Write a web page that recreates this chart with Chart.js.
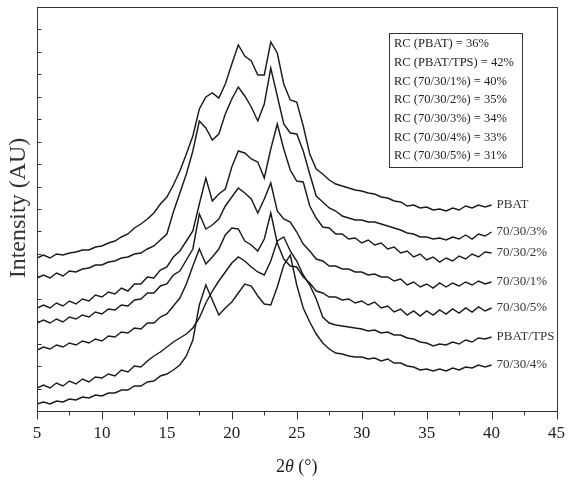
<!DOCTYPE html>
<html>
<head>
<meta charset="utf-8">
<script src="https://cdn.jsdelivr.net/npm/chart.js@4.4.1/dist/chart.umd.min.js"></script>
<style>
  html, body { margin: 0; padding: 0; background: #fff; }
</style>
</head>
<body>
<canvas id="xrd" width="577" height="480"></canvas>
<script>
// diffraction angle, degrees
var twoTheta = [5,5.5,6,6.5,7,7.5,8,8.5,9,9.5,10,10.5,11,11.5,12,12.5,13,13.5,14,14.5,
  15,15.5,16,16.5,17,17.5,18,18.5,19,19.5,20,20.5,21,21.5,22,22.5,23,23.5,24,24.5,
  25,25.5,26,26.5,27,27.5,28,28.5,29,29.5,30,30.5,31,31.5,32,32.5,33,33.5,34,34.5,
  35,35.5,36,36.5,37,37.5,38,38.5,39,39.5,40];

// stacked intensities (offset curves, arbitrary units)
var pbat = [153,156,153,157,156,158,159,161,161,164,
  165,168,170,174,177,183,187,192,198,207,
  214,226,240,257,275,302,314,318,313,327,
  347,366,355,350,336,336,369,358,327,311,
  309,285,257,242,237,231,227,225,223,221,
  220,218,217,214,213,210,209,205,206,203,
  204,201,202,200,203,201,205,203,206,204,206];
var blend3 = [133,136,133,138,135,140,139,142,143,146,
  146,149,150,153,154,157,158,162,165,171,
  177,199,218,237,260,290,283,271,277,297,
  312,324,315,304,290,307,343,315,287,278,
  277,260,237,215,209,203,200,195,193,191,
  191,189,189,187,185,183,181,178,177,174,
  174,172,173,171,174,172,176,172,177,175,179];
var blend2 = [103,106,103,108,105,110,107,112,110,116,
  114,119,117,123,120,127,127,134,133,141,
  144,154,160,170,180,207,233,210,217,222,
  244,260,258,252,249,233,262,287,262,241,
  230,229,205,193,184,183,177,177,172,173,
  168,171,166,168,162,164,158,160,154,157,
  151,154,149,153,150,155,152,157,154,159,158];
var blend1 = [88,91,88,92,89,94,92,96,94,99,
  97,102,101,106,105,111,112,118,118,125,
  127,136,140,151,162,197,182,186,192,205,
  214,223,218,212,198,212,228,200,192,189,
  179,167,160,152,150,145,145,142,142,139,
  139,136,137,134,134,130,132,126,129,124,
  127,123,128,124,128,125,129,126,130,127,129];
var blend5 = [61,64,62,66,64,68,66,70,68,72,
  70,75,74,79,78,83,82,88,88,94,
  97,105,113,127,145,162,147,154,162,176,
  183,182,170,166,160,172,198,168,152,145,
  144,134,128,120,118,114,114,111,112,108,
  110,106,109,103,105,99,102,96,100,95,
  100,96,101,97,102,98,103,99,104,100,103];
var pbatTps = [23,26,23,28,25,30,27,32,29,34,
  33,37,35,41,39,45,44,50,55,59,
  64,69,73,77,83,93,108,120,130,139,
  148,154,150,144,139,136,150,170,174,160,
  150,136,126,112,94,88,86,85,84,83,
  82,80,81,78,79,76,76,73,72,69,
  68,65,67,66,69,67,71,69,73,72,74];
var blend4 = [7,9,7,10,9,12,11,14,13,16,
  15,18,18,21,21,25,25,29,30,35,
  37,41,46,55,71,106,126,111,96,103,
  109,118,127,125,115,107,106,124,146,156,
  126,103,89,77,68,62,58,57,55,54,
  54,52,53,50,52,48,48,45,44,41,
  42,40,42,40,43,41,44,43,46,44,46];

var seriesNames = ['PBAT', '70/30/3%', '70/30/2%', '70/30/1%', '70/30/5%', 'PBAT/TPS', '70/30/4%'];
var seriesValues = [pbat, blend3, blend2, blend1, blend5, pbatTps, blend4];

// relative crystallinity box
var rcNames = ['PBAT', 'PBAT/TPS', '70/30/1%', '70/30/2%', '70/30/3%', '70/30/4%', '70/30/5%'];
var rcValues = [36, 42, 40, 35, 34, 33, 31];

var xMin = 5, xMax = 45, xMajor = 5, xMinor = 2.5;
var yMax = 404, yDivisions = 18;

var SERIF = '"Liberation Serif", "DejaVu Serif", serif';
var INK = '#222';

var datasets = seriesValues.map(function (vals, k) {
  return {
    label: seriesNames[k],
    data: vals.map(function (v, i) { return { x: twoTheta[i], y: v }; }),
    borderColor: '#1b1b1b',
    borderWidth: 1.45,
    pointRadius: 0,
    tension: 0,
    fill: false
  };
});

var decorations = {
  id: 'decorations',
  afterDraw: function (chart) {
    var ctx = chart.ctx, a = chart.chartArea;
    var xs = chart.scales.x, ys = chart.scales.y;
    var L = Math.round(a.left) + 0.5, R = Math.round(a.right) + 0.5;
    var T = Math.round(a.top) + 0.5, B = Math.round(a.bottom) + 0.5;
    ctx.save();
    ctx.strokeStyle = '#333';
    ctx.lineWidth = 1;

    // frame
    ctx.strokeRect(L, T, R - L, B - T);

    // x ticks, outward
    ctx.beginPath();
    for (var v = xMin; v <= xMax + 1e-9; v += xMinor) {
      var px = Math.round(xs.getPixelForValue(v)) + 0.5;
      var len = (Math.abs(v / xMajor - Math.round(v / xMajor)) < 1e-6) ? 8 : 4;
      ctx.moveTo(px, B);
      ctx.lineTo(px, B + len);
    }
    // y ticks, inward, no labels
    for (var i = 1; i < yDivisions; i++) {
      var py = Math.round(ys.getPixelForValue(i * yMax / yDivisions)) + 0.5;
      ctx.moveTo(L, py);
      ctx.lineTo(L + 4, py);
    }
    ctx.stroke();

    ctx.fillStyle = INK;

    // x title: 2θ (°)
    ctx.textBaseline = 'alphabetic';
    var parts = [['2', ''], ['\u03b8', 'italic '], [' (\u00b0)', '']];
    var total = 0;
    parts.forEach(function (p) {
      ctx.font = p[1] + '18px ' + SERIF;
      total += ctx.measureText(p[0]).width;
    });
    var cx = (a.left + a.right) / 2 - total / 2;
    parts.forEach(function (p) {
      ctx.font = p[1] + '18px ' + SERIF;
      ctx.fillText(p[0], cx, 472);
      cx += ctx.measureText(p[0]).width;
    });

    // y title
    ctx.save();
    ctx.translate(25, 208);
    ctx.rotate(-Math.PI / 2);
    ctx.textAlign = 'center';
    ctx.fillStyle = '#333';
    ctx.font = '24px ' + SERIF;
    ctx.fillText('Intensity (AU)', 0, 0);
    ctx.restore();

    // crystallinity box
    ctx.strokeRect(389.5, 33.5, 133, 134);
    ctx.font = '12.5px ' + SERIF;
    ctx.textAlign = 'left';
    ctx.textBaseline = 'middle';
    rcNames.forEach(function (n, k) {
      ctx.fillText('RC (' + n + ') = ' + rcValues[k] + '%', 394, 44 + k * 18.7);
    });

    // curve names at the right-hand ends
    ctx.font = '13px ' + SERIF;
    ctx.fillStyle = '#333';
    seriesValues.forEach(function (vals, k) {
      var last = vals.length - 1;
      ctx.fillText(seriesNames[k], xs.getPixelForValue(twoTheta[last]) + 5, ys.getPixelForValue(vals[last]));
    });
    ctx.restore();
  }
};

new Chart(document.getElementById('xrd').getContext('2d'), {
  type: 'line',
  data: { datasets: datasets },
  options: {
    responsive: false,
    animation: false,
    events: [],
    layout: { padding: { left: 37, right: 11, top: 7, bottom: 0 } },
    plugins: { legend: { display: false }, tooltip: { enabled: false } },
    scales: {
      x: {
        type: 'linear', min: xMin, max: xMax,
        grid: { display: false, drawTicks: false },
        border: { display: false },
        ticks: { stepSize: xMajor, padding: 12, color: INK, font: { family: SERIF, size: 17 } },
        afterFit: function (s) { s.height = 69; }
      },
      y: { display: false, min: 0, max: yMax }
    }
  },
  plugins: [decorations]
});
</script>
</body>
</html>
